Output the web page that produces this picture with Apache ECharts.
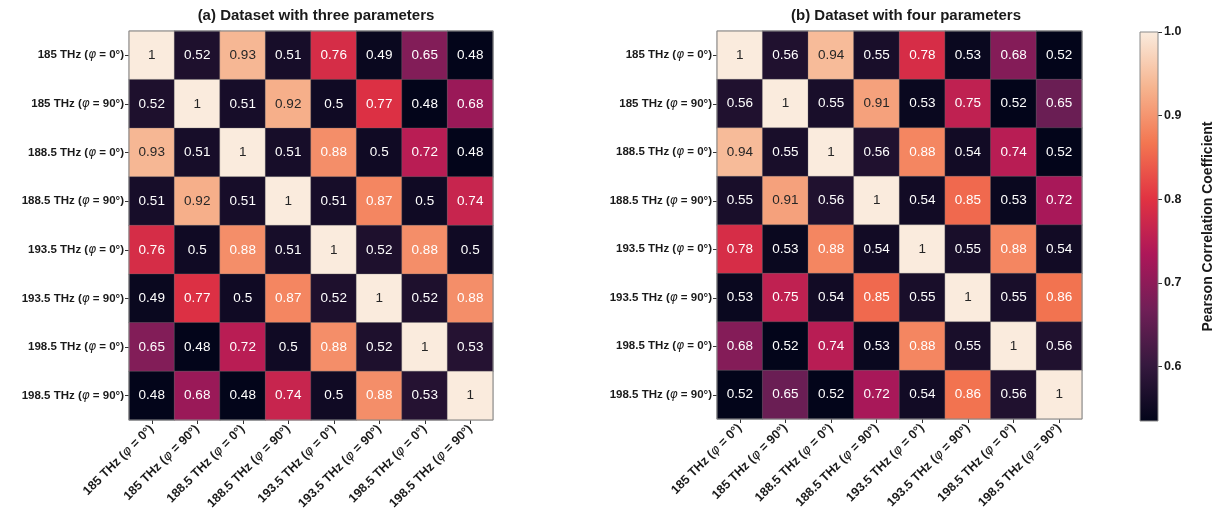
<!DOCTYPE html>
<html>
<head>
<meta charset="utf-8">
<script src="https://cdn.jsdelivr.net/npm/echarts@6/dist/echarts.min.js"></script>
<style>
  html, body { margin: 0; padding: 0; background: #ffffff; }
  #chart { width: 1225px; height: 527px; }
</style>
</head>
<body>
<div id="chart"></div>
<script>
// Frequency / polarisation channels (rows and columns of both matrices)
const channels = [
  '185 THz (φ = 0°)', '185 THz (φ = 90°)',
  '188.5 THz (φ = 0°)', '188.5 THz (φ = 90°)',
  '193.5 THz (φ = 0°)', '193.5 THz (φ = 90°)',
  '198.5 THz (φ = 0°)', '198.5 THz (φ = 90°)'
];

// Pearson correlation, dataset with three parameters
const corrThree = [
  [1, 0.52, 0.93, 0.51, 0.76, 0.49, 0.65, 0.48],
  [0.52, 1, 0.51, 0.92, 0.5, 0.77, 0.48, 0.68],
  [0.93, 0.51, 1, 0.51, 0.88, 0.5, 0.72, 0.48],
  [0.51, 0.92, 0.51, 1, 0.51, 0.87, 0.5, 0.74],
  [0.76, 0.5, 0.88, 0.51, 1, 0.52, 0.88, 0.5],
  [0.49, 0.77, 0.5, 0.87, 0.52, 1, 0.52, 0.88],
  [0.65, 0.48, 0.72, 0.5, 0.88, 0.52, 1, 0.53],
  [0.48, 0.68, 0.48, 0.74, 0.5, 0.88, 0.53, 1]
];

// Pearson correlation, dataset with four parameters
const corrFour = [
  [1, 0.56, 0.94, 0.55, 0.78, 0.53, 0.68, 0.52],
  [0.56, 1, 0.55, 0.91, 0.53, 0.75, 0.52, 0.65],
  [0.94, 0.55, 1, 0.56, 0.88, 0.54, 0.74, 0.52],
  [0.55, 0.91, 0.56, 1, 0.54, 0.85, 0.53, 0.72],
  [0.78, 0.53, 0.88, 0.54, 1, 0.55, 0.88, 0.54],
  [0.53, 0.75, 0.54, 0.85, 0.55, 1, 0.55, 0.86],
  [0.68, 0.52, 0.74, 0.53, 0.88, 0.55, 1, 0.56],
  [0.52, 0.65, 0.52, 0.72, 0.54, 0.86, 0.56, 1]
];

// Colour bar scale
const cbTicks = [0.6, 0.7, 0.8, 0.9, 1.0];
const cbRange = [0.535, 1.0];

const titles = ['(a) Dataset with three parameters', '(b) Dataset with four parameters'];

// "rocket" colormap, evenly spaced stops from low to high
const rocket = ['#03051a', '#35193e', '#701f57', '#ad1759', '#e13342', '#f37651', '#f6b48f', '#faebdd'];

const FONT = '"Liberation Sans", Arial, Helvetica, sans-serif';

function hexToRgb(h) {
  return [parseInt(h.slice(1, 3), 16), parseInt(h.slice(3, 5), 16), parseInt(h.slice(5, 7), 16)];
}
function rocketAt(t) {
  t = Math.max(0, Math.min(1, t));
  const pos = t * (rocket.length - 1);
  const i = Math.min(rocket.length - 2, Math.floor(pos));
  const f = pos - i;
  const a = hexToRgb(rocket[i]), b = hexToRgb(rocket[i + 1]);
  return a.map((v, k) => v + (b[k] - v) * f);
}
function luminance(rgb) {
  const c = rgb.map(v => {
    v /= 255;
    return v <= 0.03928 ? v / 12.92 : Math.pow((v + 0.055) / 1.055, 2.4);
  });
  return 0.2126 * c[0] + 0.7152 * c[1] + 0.0722 * c[2];
}

function matrixMin(m) { return Math.min.apply(null, m.map(r => Math.min.apply(null, r))); }
function matrixMax(m) { return Math.max.apply(null, m.map(r => Math.max.apply(null, r))); }

// Heatmap cells with annotation colour chosen from the cell's brightness
function cells(m) {
  const lo = matrixMin(m), hi = matrixMax(m);
  const out = [];
  m.forEach((row, i) => row.forEach((v, j) => {
    const lum = luminance(rocketAt((v - lo) / (hi - lo)));
    out.push({ value: [j, i, v], label: { color: lum > 0.408 ? '#262626' : '#ffffff' } });
  }));
  return out;
}

function phiRich(size) {
  return {
    p: { fontFamily: '"DejaVu Sans", sans-serif', fontStyle: 'italic', fontWeight: 'normal', fontSize: size + 0.5, color: '#1a1a1a' }
  };
}
const phiFormatter = v => v.replace('φ', '{p|φ}');

const grids = [
  { left: 129, top: 31, width: 364, height: 389 },
  { left: 717, top: 31, width: 365, height: 388 },
  { left: 1140, top: 32, width: 18, height: 389 }
].map(g => Object.assign(g, {
  show: true, borderColor: '#8a8a8a', borderWidth: 1, z: 5,
  backgroundColor: 'transparent', outerBoundsMode: 'none', containLabel: false
}));

function catX(gi) {
  return {
    type: 'category', gridIndex: gi, data: channels,
    axisLine: { show: false },
    axisTick: { show: true, alignWithLabel: true, length: 4, lineStyle: { color: '#333' } },
    axisLabel: {
      rotate: 45, margin: 7, fontFamily: FONT, fontSize: 12.5, fontWeight: 'bold', color: '#1a1a1a',
      formatter: phiFormatter, rich: phiRich(12.5)
    },
    splitArea: { show: false }, splitLine: { show: false }
  };
}
function catY(gi) {
  return {
    type: 'category', gridIndex: gi, data: channels, inverse: true,
    axisLine: { show: false },
    axisTick: { show: true, alignWithLabel: true, length: 4, lineStyle: { color: '#333' } },
    axisLabel: {
      margin: 5, fontFamily: FONT, fontSize: 11.5, fontWeight: 'bold', color: '#1a1a1a',
      formatter: phiFormatter, rich: phiRich(11.5)
    },
    splitArea: { show: false }, splitLine: { show: false }
  };
}

function heatSeries(m, gi) {
  return {
    type: 'heatmap', xAxisIndex: gi, yAxisIndex: gi, data: cells(m),
    label: {
      show: true, fontFamily: FONT, fontSize: 13.5, fontWeight: 500,
      formatter: p => String(p.value[2])
    },
    itemStyle: { borderColor: 'rgba(110,110,110,0.55)', borderWidth: 0.6 },
    emphasis: { disabled: true }
  };
}

const option = {
  backgroundColor: '#ffffff',
  animation: false,
  title: titles.map((t, i) => ({
    text: t,
    left: i === 0 ? 311 : 901,
    top: 3,
    textAlign: 'center',
    textStyle: { fontFamily: FONT, fontSize: 15, fontWeight: 'bold', color: '#1a1a1a' }
  })),
  grid: grids,
  xAxis: [catX(0), catX(1), {
    type: 'category', gridIndex: 2, data: [''], show: false
  }],
  yAxis: [catY(0), catY(1), {
    type: 'value', gridIndex: 2, position: 'right',
    min: cbRange[0], max: cbRange[1],
    axisLine: { show: false },
    splitLine: { show: false },
    axisTick: { show: true, length: 4, customValues: cbTicks, lineStyle: { color: '#333' } },
    axisLabel: {
      margin: 6, fontFamily: FONT, fontSize: 12.5, fontWeight: 'bold', color: '#1a1a1a',
      customValues: cbTicks, formatter: v => v.toFixed(1)
    },
    name: 'Pearson Correlation Coefficient',
    nameLocation: 'middle', nameRotate: 90, nameGap: 43,
    nameTextStyle: { fontFamily: FONT, fontSize: 14, fontWeight: 'bold', color: '#1a1a1a' }
  }],
  visualMap: [
    { type: 'continuous', show: false, seriesIndex: 0, dimension: 2,
      min: matrixMin(corrThree), max: matrixMax(corrThree), inRange: { color: rocket } },
    { type: 'continuous', show: false, seriesIndex: 1, dimension: 2,
      min: matrixMin(corrFour), max: matrixMax(corrFour), inRange: { color: rocket } }
  ],
  series: [
    heatSeries(corrThree, 0),
    heatSeries(corrFour, 1),
    {
      // colour bar: one gradient bar spanning the value axis range
      type: 'custom', xAxisIndex: 2, yAxisIndex: 2,
      data: [[0, cbRange[0], cbRange[1]]],
      encode: { x: 0, y: [1, 2] },
      renderItem: (params, api) => {
        const top = api.coord([api.value(0), api.value(2)]);
        const bot = api.coord([api.value(0), api.value(1)]);
        const w = api.size([1, 0])[0];
        const stops = rocket.slice().reverse().map((c, k) => ({ offset: k / (rocket.length - 1), color: c }));
        return {
          type: 'rect',
          shape: { x: top[0] - w / 2, y: top[1], width: w, height: bot[1] - top[1] },
          style: { fill: new echarts.graphic.LinearGradient(0, 0, 0, 1, stops) }
        };
      },
      silent: true
    }
  ]
};

const chart = echarts.init(document.getElementById('chart'), null, { renderer: 'canvas' });
chart.setOption(option);
</script>
</body>
</html>
